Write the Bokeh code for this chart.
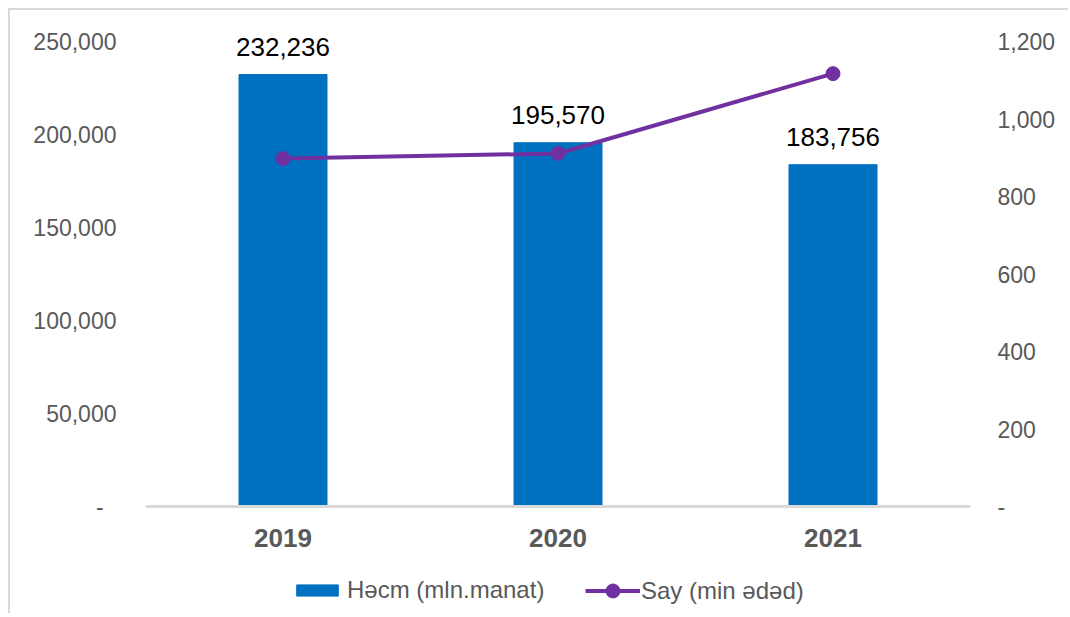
from bokeh.plotting import figure
from bokeh.models import (ColumnDataSource, Range1d, LinearAxis, FixedTicker,
                          CustomJSTickFormatter, LabelSet, Legend, LegendItem, Span)
from bokeh.core.properties import value
from bokeh.embed import file_html
from bokeh.resources import INLINE

years = ["2019", "2020", "2021"]
hecm = [232236, 195570, 183756]          # Həcm (mln.manat)
say = [898, 911, 1117]                   # Say (min ədəd)
hecm_labels = ["232,236", "195,570", "183,756"]
left_ticks = [0, 50000, 100000, 150000, 200000, 250000]
right_ticks = [0, 200, 400, 600, 800, 1000, 1200]

FONT = "Liberation Sans"
GRAY = "#595959"

# layout: frame extends below the zero line (legend) and above the top tick (labels)
AXIS_PX = 465      # pixels from 0 to top tick
BELOW_PX = 106     # pixels of frame below the zero line
ABOVE_PX = 25      # pixels of frame above the top tick
LMAX, RMAX = 250000, 1200

src = ColumnDataSource(dict(x=years, hecm=hecm, say=say, lab=hecm_labels,
                            base=[0] * len(years)))

p = figure(width=1060, height=605, x_range=years,
           y_range=Range1d(-BELOW_PX / AXIS_PX * LMAX, LMAX * (1 + ABOVE_PX / AXIS_PX)),
           output_backend="svg", toolbar_location=None,
           min_border_left=135, min_border_right=100, min_border_top=31 - ABOVE_PX,
           min_border_bottom=3, outline_line_color=None,
           background_fill_color="white", border_fill_color="white")
p.margin = (8, 0, 0, 8)
p.styles = {"border-left": "2px solid #d9d9d9", "border-top": "2px solid #d9d9d9"}

p.extra_y_ranges = {"say": Range1d(-BELOW_PX / AXIS_PX * RMAX,
                                   RMAX * (1 + ABOVE_PX / AXIS_PX))}

bars = p.vbar(x="x", top="hecm", width=0.32, source=src, color="#0070C0")
line = p.line(x="x", y="say", source=src, y_range_name="say",
              line_color="#7030A0", line_width=4)
dots = p.scatter(x="x", y="say", source=src, y_range_name="say", size=14,
                 fill_color="#7030A0", line_color="#7030A0")

p.add_layout(Span(location=0, dimension="width", line_color="#D9D9D9", line_width=3))

labels = LabelSet(x="x", y="hecm", text="lab", source=src, text_align="center",
                  text_baseline="middle", y_offset=28, text_font=value(FONT),
                  text_font_size=value("26px"), text_color="black")
p.add_layout(labels)

xlabels = LabelSet(x="x", y="base", text="x", source=src, text_align="center",
                   text_baseline="middle", y_offset=-31, text_font=value(FONT),
                   text_font_size=value("26px"), text_font_style="bold",
                   text_color=GRAY)
p.add_layout(xlabels)

fmt = CustomJSTickFormatter(code="""
if (tick == 0) { return "-\\u00a0\\u00a0"; }
return tick.toLocaleString("en-US");
""")
fmt_r = CustomJSTickFormatter(code="""
if (tick == 0) { return "-"; }
return tick.toLocaleString("en-US");
""")

p.yaxis.ticker = FixedTicker(ticks=left_ticks)
p.yaxis.formatter = fmt
for ax in p.yaxis:
    ax.axis_line_color = None
    ax.major_tick_line_color = None
    ax.minor_tick_line_color = None
    ax.major_label_standoff = 23
    ax.major_label_text_font = FONT
    ax.major_label_text_font_size = "23px"
    ax.major_label_text_color = GRAY

ry = LinearAxis(y_range_name="say", ticker=FixedTicker(ticks=right_ticks),
                formatter=fmt_r, axis_line_color=None, major_tick_line_color=None,
                minor_tick_line_color=None, major_label_standoff=21,
                major_label_text_font=FONT, major_label_text_font_size="23px",
                major_label_text_color=GRAY)
p.add_layout(ry, "right")

p.xaxis.visible = False
p.xgrid.grid_line_color = None
p.ygrid.grid_line_color = None

common = dict(orientation="horizontal", label_text_font=FONT,
              label_text_font_size="24px", label_text_color=GRAY,
              border_line_color=None,
              background_fill_alpha=0, margin=0, padding=0)
leg1 = Legend(items=[LegendItem(label="Həcm (mln.manat)", renderers=[bars])],
              location=(146, 8), glyph_width=52, glyph_height=14,
              label_standoff=4, **common)
leg2 = Legend(items=[LegendItem(label="Say (min ədəd)", renderers=[line, dots])],
              location=(440, 4), glyph_width=55, glyph_height=35,
              label_standoff=1, **common)
p.add_layout(leg1)
p.add_layout(leg2)

open("out.html", "w").write(file_html(p, INLINE))
